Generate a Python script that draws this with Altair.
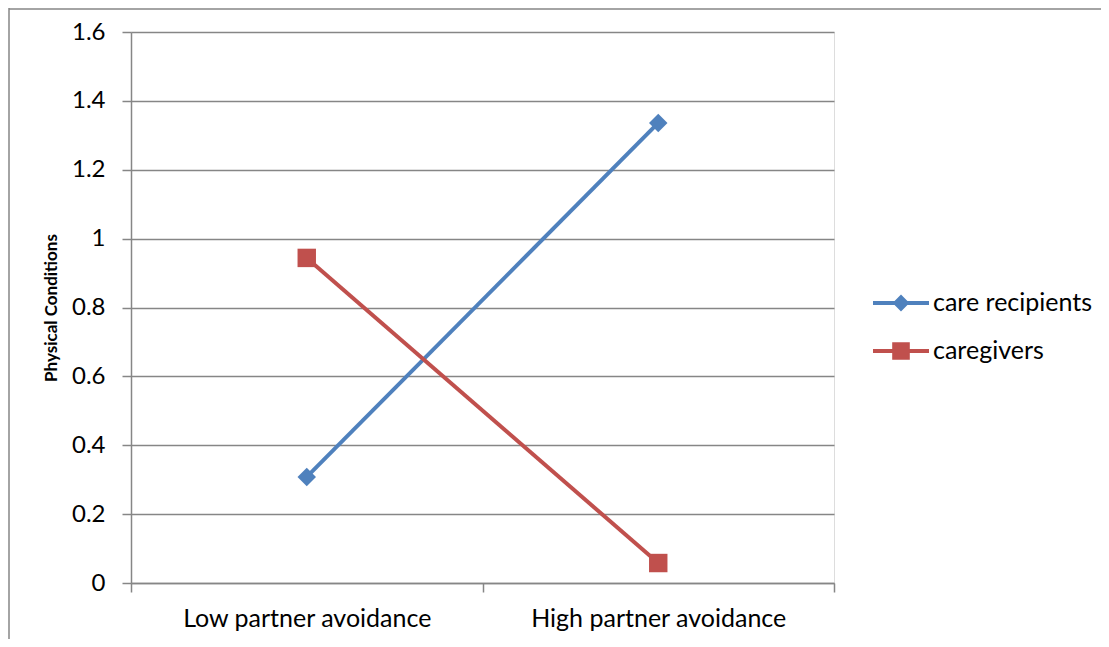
import altair as alt
import pandas as pd

categories = ["Low partner avoidance", "High partner avoidance"]
series_names = ["care recipients", "caregivers"]
care_recipients = [0.308, 1.336]
caregivers = [0.944, 0.058]
y_ticks = [0, 0.2, 0.4, 0.6, 0.8, 1, 1.2, 1.4, 1.6]

rows = []
for s, vals in zip(series_names, [care_recipients, caregivers]):
    for c, v in zip(categories, vals):
        rows.append({"avoidance": c, "series": s, "value": v})
df = pd.DataFrame(rows)

colors = ["#4F81BD", "#C0504D"]
markers = ["diamond", "square"]
FONT = "Lato"
GRID = "#868686"

# legend symbols: line with marker (custom paths)
legend_shapes = [
    "M-1.4,-0.1H1.4V0.1H-1.4Z M0,-0.42L0.42,0L0,0.42L-0.42,0Z",
    "M-1.4,-0.1H1.4V0.1H-1.4Z M-0.44,-0.44H0.44V0.44H-0.44Z",
]

x_enc = alt.X(
    "avoidance:N",
    sort=categories,
    scale=alt.Scale(paddingInner=0, paddingOuter=0),
    axis=alt.Axis(
        title=None, labelAngle=0, tickBand="extent", tickSize=9, labelPadding=14,
        labelFontSize=25, labelFont=FONT, labelColor="black", labelLimit=500,
        domainColor=GRID, tickColor=GRID, domainWidth=1.5, tickWidth=1.5, grid=False,
    ),
)
y_enc = alt.Y(
    "value:Q",
    scale=alt.Scale(domain=[0, 1.6], nice=False),
    axis=alt.Axis(
        title="Physical Conditions", values=y_ticks, format="~g",
        tickSize=9, labelPadding=17, labelFontSize=24, labelFont=FONT, labelColor="black",
        domainColor=GRID, tickColor=GRID, domainWidth=1.5, tickWidth=1.5,
        gridColor=GRID, gridWidth=1.5,
        titleFont=FONT, titleFontSize=17, titleFontWeight="bold", titleColor="black",
        titlePadding=11,
    ),
)

base = alt.Chart(df)

layers = []
for name, col, mk in zip(series_names, colors, markers):
    sub = base.transform_filter(alt.datum.series == name)
    layers.append(sub.mark_line(strokeWidth=4, color=col).encode(x=x_enc, y=y_enc))
    layers.append(
        sub.mark_point(shape=mk, filled=True, size=340, opacity=1, color=col).encode(x=x_enc, y=y_enc)
    )

leg = alt.Legend(
    title=None, orient="none", legendX=750, legendY=251, padding=0,
    symbolSize=1600, symbolStrokeWidth=0, rowPadding=15, labelOffset=12,
    labelFont=FONT, labelFontSize=25, labelColor="black", symbolOpacity=1,
)
legend_layer = base.transform_filter("false").mark_point(filled=True, size=1600, opacity=1).encode(
    x=x_enc, y=y_enc,
    color=alt.Color("series:N", scale=alt.Scale(domain=series_names, range=colors), legend=leg),
    shape=alt.Shape("series:N", scale=alt.Scale(domain=series_names, range=legend_shapes), legend=leg),
)

frame_df = pd.DataFrame({"k": [0]})
frame_left = alt.Chart(frame_df).mark_rule(color=GRID, strokeWidth=1.5).encode(
    x=alt.value(-122), y=alt.value(-24), y2=alt.value(610)
)
frame_top = alt.Chart(frame_df).mark_rule(color=GRID, strokeWidth=1.5).encode(
    x=alt.value(-122), x2=alt.value(975), y=alt.value(-23)
)

chart = alt.layer(frame_left, frame_top, *layers, legend_layer).properties(
    width=703, height=551,
    padding={"left": 123, "top": 24, "right": 267, "bottom": 56},
    autosize="none",
).configure_view(stroke=None).configure(background="white")

chart.save("out.html", embed_options={"renderer": "svg", "actions": False})
